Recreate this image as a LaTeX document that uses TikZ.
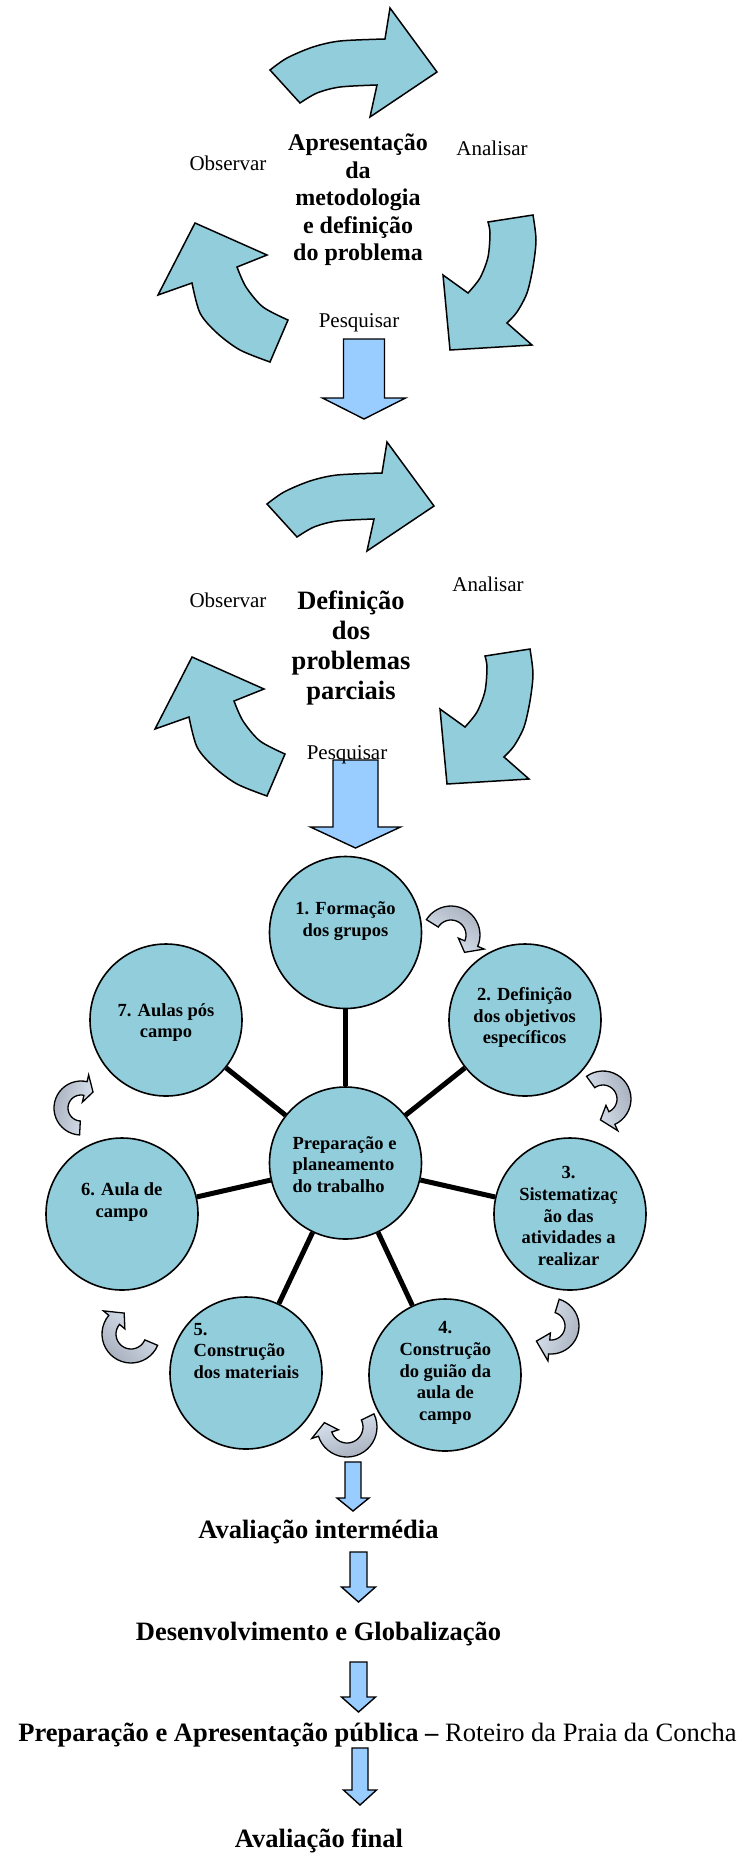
\documentclass[tikz,border=0pt]{standalone}
\usepackage{fontspec}
\setmainfont{Liberation Serif}
\definecolor{cyc}{HTML}{92CDDC}
\definecolor{blk}{HTML}{99CCFF}
\definecolor{agray}{HTML}{A9B1BE}
\definecolor{alight}{HTML}{DCE6F2}
\tikzset{
  cycarrow/.style={fill=cyc, draw=black, line width=1.5pt, line join=miter},
  blockarr/.style={fill=blk, draw=black, line width=1.4pt},
  bubble/.style={circle, fill=cyc, draw=black, line width=1.6pt, minimum size=152pt, inner sep=0pt},
  spoke/.style={line width=5pt, draw=black},
  ctext/.style={font=\bfseries\fontsize{18.5}{21.7}\selectfont, align=center, inner sep=0pt},
  ltext/.style={font=\bfseries\fontsize{18.5}{21.7}\selectfont, align=left, inner sep=0pt, anchor=west},
  lbl/.style={font=\fontsize{21}{25}\selectfont, inner sep=0pt, anchor=base},
  bigtitle/.style={font=\bfseries\fontsize{24}{27.5}\selectfont, align=center, inner sep=0pt},
  bigtitleb/.style={font=\bfseries\fontsize{26.5}{30}\selectfont, align=center, inner sep=0pt},
  steptext/.style={font=\bfseries\fontsize{26.5}{30}\selectfont, inner sep=0pt, anchor=base},
  smallarr/.style={draw=black, line width=1.3pt, left color=agray, right color=alight},
}
\newcommand{\cyclearrows}{%
  \draw[cycarrow] plot[smooth] coordinates {(270,70) (287,58) (313,47) (340,41) (385,39)}
    -- (390,8) -- (437,72) -- (370,117)
    -- plot[smooth] coordinates {(377,85) (340,87) (317,93) (300,103)} -- cycle;
  \draw[cycarrow] (488,222)
    -- plot[smooth] coordinates {(533,215) (536,240) (533,267) (527,293) (517,312) (507,323)}
    -- (532,345) -- (450,350) -- (443,275)
    -- plot[smooth] coordinates {(468,293) (480,278) (488,257) (490,233) (488,222)} -- cycle;
  \draw[cycarrow] (195,223) -- (267,255)
    -- plot[smooth] coordinates {(237,267) (246,287) (263,307) (288,320)}
    -- plot[smooth] coordinates {(270,362) (240,350) (217,333) (200,313) (192,283)}
    -- (158,295) -- cycle;
}
% cx cy R a1 a2 atip shadeangle
\newcommand{\curvarr}[7]{%
  \path[smallarr, shading angle=#7]
    plot[domain=#4:#5, samples=24] ({#1+(#3+7)*cos(\x)}, {#2+(#3+7)*sin(\x)})
    -- ({#1+(#3+14)*cos(#5)}, {#2+(#3+14)*sin(#5)})
    -- ({#1+#3*cos(#6)}, {#2+#3*sin(#6)})
    -- ({#1+(#3-14)*cos(#5)}, {#2+(#3-14)*sin(#5)})
    -- plot[domain=#5:#4, samples=24] ({#1+(#3-7)*cos(\x)}, {#2+(#3-7)*sin(\x)})
    -- cycle;
}
% cx top shafthalf headstart headhalf tip
\newcommand{\downblock}[6]{%
  \draw[blockarr] (#1-#3,#2) -- (#1+#3,#2) -- (#1+#3,#4) -- (#1+#5,#4) -- (#1,#6)
    -- (#1-#5,#4) -- (#1-#3,#4) -- cycle;
}
\begin{document}
\begin{tikzpicture}[x=1pt, y=-1pt]
\useasboundingbox (0,0) rectangle (749,1856);

% ---------- first cycle ----------
\cyclearrows
\node[bigtitle] (t1) at (358,200) {Apresentação\\da\\metodologia\\e definição\\do problema};
\node[lbl] (obs1) at (228,170) {Observar};
\node[lbl] (ana1) at (492,155) {Analisar};
\node[lbl] (pes1) at (359,327) {Pesquisar};
\downblock{364}{339}{20.5}{398}{41.5}{419}

% ---------- second cycle ----------
\begin{scope}[shift={(-3,434)}]
\cyclearrows
\end{scope}
\downblock{355.5}{760}{22.5}{827}{45}{848}
\node[bigtitleb] (t2) at (351,648) {Definição\\dos\\problemas\\parciais};
\node[lbl] (obs2) at (228,607) {Observar};
\node[lbl] (ana2) at (488,591) {Analisar};
\node[lbl] (pes2) at (347,759) {Pesquisar};

% ---------- wheel ----------
\node[bubble] (cc) at (345.5,1163) {};
\node[bubble] (c1) at (345.5,932.5) {};
\node[bubble] (c2) at (525,1020) {};
\node[bubble] (c3) at (570,1214) {};
\node[bubble] (c4) at (445,1375) {};
\node[bubble] (c5) at (246,1373) {};
\node[bubble] (c6) at (122,1214) {};
\node[bubble] (c7) at (166,1020) {};
\foreach \n in {c1,c2,c3,c4,c5,c6,c7} \draw[spoke] (cc) -- (\n);

\node[ltext] (tcc) at (292.4,1164.5) {Preparação e\\planeamento\\do trabalho};
\node[ctext] (t1c) at (345.5,921) {1. Formação\\dos grupos};
\node[ctext] (t2c) at (524.6,1017.5) {2. Definição\\dos objetivos\\específicos};
\node[ctext] (t3c) at (568.6,1216) {3.\\Sistematizaç\\ão das\\atividades a\\realizar};
\node[ctext] (t4c) at (445.3,1373) {4.\\Construção\\do guião da\\aula de\\campo};
\node[ltext] (t5c) at (193.5,1351) {5.\\Construção\\dos materiais};
\node[ctext] (t6c) at (121.8,1202) {6. Aula de\\campo};
\node[ctext] (t7c) at (166,1022.5) {7. Aulas pós\\campo};

\curvarr{451}{935}{22}{212}{383}{412}{-32}
\curvarr{603}{1099}{21}{234}{425}{457}{-70}
\curvarr{551}{1326}{21}{287}{455}{494}{-110}
\curvarr{347}{1427}{23}{334}{522}{551}{-163}
\curvarr{131}{1334}{22}{23}{220}{252}{140}
\curvarr{81}{1108}{20}{93}{283}{307}{79}

% ---------- final sequence ----------
\downblock{353}{1462}{8}{1498}{16}{1511}
\node[steptext] (s1) at (318.5,1538) {Avaliação intermédia};
\downblock{358.5}{1552}{8.5}{1587}{17}{1602}
\node[steptext] (s2) at (318.5,1640) {Desenvolvimento e Globalização};
\downblock{358.5}{1662}{8.5}{1697}{17}{1712}
\node[steptext] (s3) at (377.5,1741) {Preparação e Apresentação pública – {\mdseries Roteiro da Praia da Concha}};
\downblock{360}{1748}{8}{1790}{16.5}{1805}
\node[steptext] (s4) at (319,1847) {Avaliação final};
\end{tikzpicture}
\end{document}
